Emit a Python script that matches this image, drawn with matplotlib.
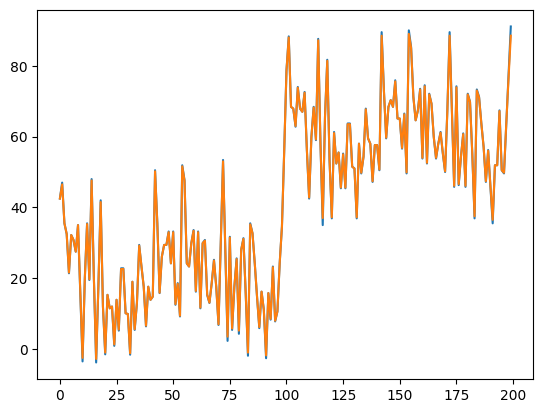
import matplotlib
matplotlib.use("Agg")
import matplotlib.pyplot as plt
import numpy as np

# values, index 0..199
raw = [
    42.5, 47.0, 35.5, 32.5, 21.4, 32.2, 30.8, 27.5, 35.0, 16.0,
    -3.5, 20.0, 35.5, 19.5, 48.0, 20.0, -3.8, 18.0, 42.0, 12.0,
    -1.5, 15.3, 11.5, 12.0, 0.9, 13.9, 5.2, 22.8, 22.8, 10.1,
    9.9, -1.6, 19.0, 5.4, 13.0, 29.4, 23.3, 17.6, 6.4, 17.6,
    13.9, 14.8, 50.5, 35.5, 15.8, 26.1, 29.4, 29.4, 33.2, 24.2,
    33.2, 12.5, 18.6, 9.2, 51.9, 47.7, 24.2, 23.3, 29.9, 33.6,
    16.2, 33.2, 11.5, 29.9, 30.8, 15.3, 13.0, 18.6, 25.2, 17.6,
    6.8, 29.9, 53.4, 28.0, 2.3, 31.7, 5.4, 17.6, 25.6, 4.3,
    28.0, 31.3, 15.8, -1.9, 35.5, 32.7, 24.2, 14.8, 5.9, 16.2,
    11.1, -2.6, 15.8, 8.3, 23.3, 7.8, 10.6, 24.2, 34.6, 56.0,
    78.7, 88.3, 68.4, 67.9, 62.8, 74.0, 67.9, 67.0, 72.6, 56.2,
    42.5, 59.9, 68.4, 59.0, 87.6, 58.0, 35.0, 65.6, 81.7, 53.3,
    36.9, 61.3, 52.4, 55.5, 45.4, 55.2, 45.4, 63.7, 63.7, 51.5,
    51.0, 36.9, 58.0, 49.6, 54.3, 67.9, 59.5, 58.0, 47.2, 57.6,
    57.6, 50.5, 89.5, 73.0, 59.5, 68.4, 70.3, 68.4, 75.9, 65.1,
    65.1, 56.6, 66.5, 49.6, 90.0, 85.3, 71.2, 64.6, 67.4, 73.5,
    53.8, 74.5, 52.4, 72.1, 69.3, 59.9, 53.8, 58.0, 61.3, 55.2,
    50.0, 67.4, 89.5, 67.4, 45.8, 74.2, 46.3, 54.3, 60.9, 45.8,
    72.1, 69.8, 55.2, 36.9, 73.3, 71.2, 63.7, 57.1, 47.2, 56.2,
    45.8, 35.5, 51.9, 51.9, 67.4, 50.5, 49.6, 63.7, 77.3, 91.1,
]

# second series sits on top of the first, a touch flatter at the extremes
smooth = [
    42.5, 46.5, 35.5, 32.5, 21.6, 32.2, 30.8, 27.5, 35.0, 16.0,
    -2.5, 20.0, 35.3, 19.7, 47.6, 20.0, -2.8, 18.0, 41.5, 12.0,
    -1.0, 15.3, 11.5, 12.0, 1.3, 13.9, 5.5, 22.6, 22.6, 10.1,
    9.9, -1.2, 19.0, 5.6, 13.0, 29.2, 23.3, 17.6, 6.6, 17.6,
    13.9, 14.8, 50.2, 35.5, 15.9, 26.1, 29.4, 29.4, 33.0, 24.2,
    33.0, 12.7, 18.4, 9.4, 51.6, 47.5, 24.2, 23.3, 29.9, 33.4,
    16.4, 33.0, 11.7, 29.9, 30.6, 15.4, 13.1, 18.6, 25.0, 17.6,
    7.0, 29.9, 53.0, 28.0, 3.5, 31.5, 5.8, 17.6, 25.4, 5.2,
    28.0, 31.1, 15.8, -1.0, 35.2, 32.7, 24.2, 14.8, 6.2, 16.2,
    11.1, -1.8, 15.8, 8.5, 23.1, 8.0, 10.6, 24.2, 34.6, 56.0,
    78.7, 88.0, 68.4, 67.9, 63.0, 73.8, 67.9, 67.0, 72.4, 56.2,
    42.8, 59.9, 68.2, 59.2, 87.2, 58.0, 37.0, 65.6, 81.4, 53.3,
    37.2, 61.0, 52.4, 55.5, 45.6, 55.0, 45.6, 63.5, 63.5, 51.5,
    51.0, 37.2, 58.0, 49.8, 54.3, 67.7, 59.5, 58.0, 47.4, 57.6,
    57.6, 50.7, 88.5, 73.0, 59.7, 68.4, 70.3, 68.4, 75.6, 65.1,
    65.1, 56.8, 66.3, 49.9, 89.0, 85.0, 71.2, 64.6, 67.4, 73.3,
    54.0, 74.2, 52.6, 71.9, 69.3, 59.9, 54.0, 58.0, 61.1, 55.4,
    50.2, 67.4, 88.5, 67.4, 46.1, 73.9, 46.6, 54.3, 60.7, 46.1,
    71.9, 69.8, 55.2, 37.5, 73.0, 71.0, 63.7, 57.1, 47.4, 56.0,
    46.1, 36.5, 51.9, 51.9, 67.2, 50.5, 49.8, 63.7, 76.5, 88.5,
]

x = np.arange(len(raw))

fig, ax = plt.subplots(figsize=(6.4, 4.8), dpi=100)
ax.plot(x, raw)
ax.plot(x, smooth)
fig.savefig("out.png", dpi=100, bbox_inches="tight")
